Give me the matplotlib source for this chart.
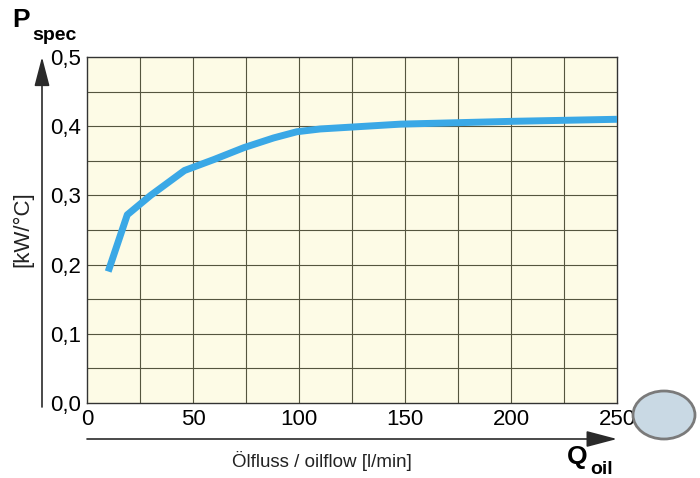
import matplotlib
matplotlib.use("Agg")
import matplotlib.pyplot as plt
from matplotlib.patches import Ellipse, FancyArrowPatch

plt.rcParams['font.family'] = ['Liberation Sans', 'DejaVu Sans']

# data
oilflow = [10, 19, 30, 46, 60, 74, 88, 99, 110, 148, 200, 250]
p_spec = [0.190, 0.272, 0.300, 0.336, 0.352, 0.369, 0.383, 0.392, 0.396, 0.403, 0.407, 0.410]

x_ticks = [0, 50, 100, 150, 200, 250]
x_labels = ["0", "50", "100", "150", "200", "250"]
y_ticks = [0.0, 0.1, 0.2, 0.3, 0.4, 0.5]
y_labels = ["0,0", "0,1", "0,2", "0,3", "0,4", "0,5"]

fig = plt.figure(figsize=(7, 4.78), dpi=100)
ax = fig.add_axes([87/700, 1-403/478, 530/700, 346/478])
ax.set_facecolor('#fdfbe6')
ax.set_xlim(0, 250)
ax.set_ylim(0, 0.5)

# grid
for gx in range(25, 250, 25):
    ax.axvline(gx, color='#55553f', lw=0.8, zorder=1)
for k in range(1, 10):
    ax.axhline(k*0.05, color='#55553f', lw=0.8, zorder=1)

ax.plot(oilflow, p_spec, color='#3aa8e6', lw=5, solid_capstyle='butt',
        solid_joinstyle='round', zorder=3)

for s in ax.spines.values():
    s.set_color('#333333')
    s.set_linewidth(1.0)

ax.set_xticks(x_ticks)
ax.set_xticklabels(x_labels, fontsize=16)
ax.set_yticks(y_ticks)
ax.set_yticklabels(y_labels, fontsize=16)
ax.tick_params(axis='y', length=0, pad=4)
ax.tick_params(axis='x', length=0, pad=4)

# arrows
fig.patches.append(FancyArrowPatch((42/700, 1-407/478), (42/700, 1-57/478),
                                   transform=fig.transFigure,
                                   arrowstyle='-|>,head_length=18,head_width=4.7',
                                   color='#2a2a2a', lw=1.2, mutation_scale=1, shrinkA=0, shrinkB=0))
fig.patches.append(FancyArrowPatch((87/700, 1-439/478), (617/700, 1-439/478),
                                   transform=fig.transFigure,
                                   arrowstyle='-|>,head_length=19,head_width=5',
                                   color='#2a2a2a', lw=1.2, mutation_scale=1, shrinkA=0, shrinkB=0))

fig.text(23/700, 1-229/478, "[kW/°C]", rotation=90, fontsize=16, ha='center', va='center', color='#222222')
fig.text(322/700, 1-461/478, "Ölfluss / oilflow [l/min]", fontsize=13.5, ha='center', va='center', color='#222222')
fig.text(12/700, 1-20/478, "P", fontsize=19, fontweight='bold', ha='left', va='center')
fig.text(32/700, 1-36/478, "spec", fontsize=14, fontweight='bold', ha='left', va='center')
fig.text(567/700, 1-457/478, "Q", fontsize=19, fontweight='bold', ha='left', va='center')
fig.text(590/700, 1-469/478, "oil", fontsize=14, fontweight='bold', ha='left', va='center')

# punched hole artifact
fig.patches.append(Ellipse((664/700, 1-415/478), 62/700, 48/478, transform=fig.transFigure,
                           facecolor='#c9d9e4', edgecolor='#7a7a7a', lw=2))

fig.savefig("out.png", dpi=100)
